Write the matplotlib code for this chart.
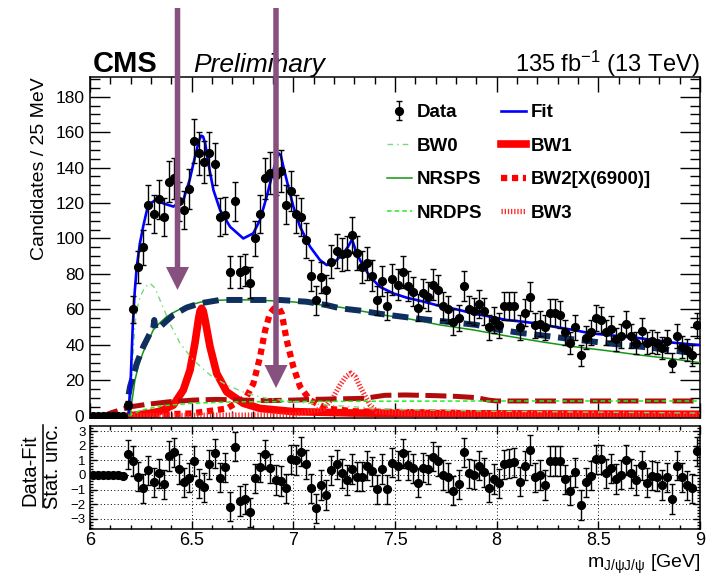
import numpy as np
import matplotlib
matplotlib.use('Agg')
import matplotlib.pyplot as plt
from matplotlib.patches import FancyArrow
from matplotlib.lines import Line2D
from matplotlib.transforms import IdentityTransform
from matplotlib.ticker import MultipleLocator, FuncFormatter

plt.rcParams['font.family'] = ['Liberation Sans', 'DejaVu Sans']
plt.rcParams['mathtext.fontset'] = 'custom'
plt.rcParams['mathtext.rm'] = 'Liberation Sans'
plt.rcParams['mathtext.it'] = 'Liberation Sans:italic'
plt.rcParams['mathtext.bf'] = 'Liberation Sans:bold'

# ---------------- data ----------------
bin_lo, bin_width, n_bins = 6.0, 0.025, 120
counts = [0, 0, 0, 0, 0, 0, 0, 6, 60, 84,
          95, 119, 114, 122, 112, 132, 134, 121, 116, 128,
          155, 148, 143, 148, 142, 112, 113, 81, 121, 81,
          82, 75, 100, 114, 134, 137, 136, 138, 119, 127,
          114, 112, 99, 79, 65, 78, 71, 87, 93, 91,
          92, 102, 92, 84, 86, 79, 65, 76, 62, 77,
          74, 81, 73, 70, 61, 69, 67, 74, 71, 62,
          60, 53, 55, 73, 60, 59, 63, 59, 50, 54,
          51, 62, 62, 62, 50, 58, 67, 51, 52, 50,
          58, 58, 57, 47, 41, 50, 34, 44, 47, 55,
          54, 47, 49, 43, 45, 52, 45, 41, 48, 41,
          42, 41, 38, 42, 30, 45, 39, 37, 34, 51]
resid = [0, 0, 0, 0, 0, 0, -0.05, 1.40, 0.95, -0.13,
         -0.92, 0.33, -0.51, 0.10, -0.63, 1.29, 1.54, 0.40, -0.51, -0.19,
         0.95, -0.58, -0.85, 0.72, 1.47, -0.19, 0.52, -2.18, 1.93, -1.79,
         -1.65, -2.56, -0.24, 0.52, 1.40, 0.45, -0.35, -0.42, -0.92, 1.08,
         1.02, 1.58, 0.74, -0.92, -2.29, -0.69, -1.38, 0.33, 0.72, 0.10,
         -0.35, 0.40, -0.13, -0.13, 0.63, 0.26, -0.99, 0.40, -0.99, 0.83,
         0.63, 1.47, 0.67, 0.45, -0.53, 0.49, 0.38, 1.24, 0.95, -0.01,
         -0.17, -1.08, -0.65, 1.54, 0.10, 0.03, 0.63, 0.17, -0.88, -0.28,
         -0.58, 0.72, 0.79, 0.86, -0.47, 0.63, 1.70, -0.17, -0.01, -0.69,
         0.95, 0.95, 0.95, -0.30, -1.08, 0.17, -2.06, -0.51, -0.06, 1.06,
         1.06, 0.10, 0.45, -0.28, 0.03, 1.02, 0.10, -0.35, 0.67, -0.53,
         -0.06, -0.13, -0.69, -0.17, -1.65, 0.63, -0.17, -0.72, -0.92, 1.61]
resid_err = [0] * 7 + [1] * 113

fit_x = [6.19, 6.20, 6.21, 6.22, 6.23, 6.245, 6.262, 6.28, 6.30, 6.32, 6.34, 6.36,
         6.41, 6.459, 6.49, 6.51, 6.525, 6.537, 6.547, 6.556, 6.566, 6.582, 6.607,
         6.64, 6.689, 6.754, 6.803, 6.836, 6.869, 6.902, 6.917, 6.928, 6.938, 6.95,
         6.967, 7.0, 7.033, 7.082, 7.131, 7.164, 7.197, 7.246, 7.27, 7.289, 7.31,
         7.336, 7.377, 7.426, 7.492, 7.557, 7.639, 7.721, 7.803, 7.885, 7.967,
         8.049, 8.131, 8.213, 8.295, 8.377, 8.459, 8.541, 8.623, 8.705, 8.787,
         8.869, 8.951, 9.0]
fit_y = [2, 20, 50, 70, 84, 97, 107, 116, 120, 121.5, 121, 119.8,
         118, 121.7, 133, 143, 150, 155.5, 158, 157.5, 154, 142.4, 127.3,
         116, 106.6, 100, 102.9, 110.4, 123.6, 138.6, 145, 148, 147, 141,
         133, 118, 106.6, 95.4, 87.8, 85, 86, 91.6, 95.5, 99.5, 92,
         86, 78.4, 72.7, 69, 66.6, 64.4, 61.9, 60, 57.7, 55.9,
         54, 53, 51.8, 49.9, 48.4, 46.5, 45.6, 44.6, 43.7, 42.4,
         41.2, 40.3, 39.9]

bkg_x = [6.19, 6.197, 6.23, 6.262, 6.295, 6.31, 6.316, 6.322, 6.328, 6.344, 6.377,
         6.41, 6.475, 6.541, 6.639, 6.77, 6.934, 7.066, 7.164, 7.23, 7.328, 7.443,
         7.574, 7.672, 7.787, 7.902, 8.0, 8.131, 8.246, 8.36, 8.475, 8.59, 8.705,
         8.82, 8.934, 9.0]
bkg_y = [12, 16.4, 29.5, 39, 46.5, 48.5, 54, 49, 49.3, 50, 53.5,
         56.8, 61, 63.4, 65.3, 65.3, 65.3, 64.3, 62.4, 60.6, 59.3, 57.2,
         55.3, 54, 52.7, 51.2, 48.7, 46.5, 45, 43.3, 41.8, 40.3, 39,
         37.5, 35.8, 35]

nrsps_x = [6.195, 6.205, 6.221, 6.24, 6.262, 6.29, 6.311, 6.34, 6.377, 6.42, 6.459,
           6.5, 6.541, 6.6, 6.7, 6.8, 6.9, 7.0, 7.1, 7.23, 7.443, 7.574, 7.721,
           7.885, 8.049, 8.213, 8.377, 8.541, 8.705, 8.869, 9.0]
nrsps_y = [0, 7, 20, 29, 36, 43, 48.3, 52, 55.9, 58.8, 61,
           62.6, 64, 65, 65.4, 65.3, 64.8, 64.2, 63, 61.2, 56.8, 54.5, 51.2,
           48.4, 45, 41.8, 39, 36.7, 34.2, 32, 29.9]

nrdps_x = [6.19, 6.25, 6.35, 6.5, 6.7, 7.0, 7.5, 8.0, 9.0]
nrdps_y = [0, 3, 5.5, 7, 7.8, 8, 8.2, 8.3, 8.3]

bw0_x = [6.2, 6.21, 6.221, 6.235, 6.246, 6.27, 6.295, 6.32, 6.344, 6.393, 6.443,
         6.508, 6.59, 6.672, 6.77, 6.869, 7.0, 7.164, 7.5, 8.0, 9.0]
bw0_y = [0, 30, 52, 62, 67, 72.5, 74.7, 72, 65.3, 52, 40.8,
         31.4, 23, 17.3, 12.6, 9.8, 7.9, 6, 3.5, 2.5, 1.5]

bw1_x = [6.2, 6.3, 6.344, 6.41, 6.459, 6.492, 6.516, 6.533, 6.541, 6.549, 6.557,
         6.566, 6.59, 6.623, 6.672, 6.754, 6.836, 7.0, 7.3, 8.0, 9.0]
bw1_y = [0, 1.5, 2.5, 6, 14.5, 25.8, 40.8, 54, 59, 60.6, 59,
         54, 39, 23.9, 13.5, 7, 4.1, 2.3, 1.5, 1.0, 0.8]

bw2_x = [6.2, 6.5, 6.672, 6.77, 6.803, 6.836, 6.861, 6.885, 6.905, 6.918, 6.93,
         6.943, 6.967, 7.0, 7.033, 7.082, 7.164, 7.3, 8.0, 9.0]
bw2_y = [0, 1.3, 4, 10.7, 18, 33, 48, 57.7, 60.5, 61, 60.5,
         57.7, 42.7, 27.6, 16.4, 8.8, 4, 2.5, 1.2, 0.8]

bw3_x = [6.2, 7.0, 7.15, 7.197, 7.23, 7.258, 7.283, 7.305, 7.328, 7.377, 7.41, 7.6, 9.0]
bw3_y = [0, 0.5, 4, 10.7, 17.3, 22, 24, 22, 16.4, 6, 2.3, 1, 0.5]

intf_x = [6.04, 6.1, 6.197, 6.279, 6.393, 6.508, 6.623, 6.754, 6.869, 7.0, 7.098,
          7.23, 7.35, 7.45, 7.55, 7.7, 7.8, 7.9, 7.96, 8.0, 9.0]
intf_y = [-1.5, 1.5, 5, 6.4, 7.9, 8.8, 9.2, 8.8, 8.5, 8.8, 9.2,
          9.5, 9.8, 11.5, 11.7, 11.3, 10.9, 10.2, 8.8, 8.3, 8.3]

# ---------------- figure ----------------
W, H = 726, 576
fig = plt.figure(figsize=(W / 100, H / 100), dpi=100)


def fx(px):
    return px / W


def fy(py):
    return 1 - py / H


ax = fig.add_axes([fx(90), fy(418), 610 / W, (418 - 77) / H])
axr = fig.add_axes([fx(90), fy(529), 610 / W, (529 - 426) / H])

mass = bin_lo + bin_width * (np.arange(n_bins) + 0.5)
counts_a = np.array(counts, dtype=float)
errs = np.sqrt(counts_a)

l_bw1, = ax.plot(bw1_x, bw1_y, color='#ff0000', lw=5.5, zorder=2, label='BW1')
l_bw2, = ax.plot(bw2_x, bw2_y, color='#ff0000', lw=4.5, ls=(0, (1.0, 0.75)), zorder=2,
                 label='BW2[X(6900)]')
l_bw3, = ax.plot(bw3_x, bw3_y, color='#ff2a2a', lw=3.8, ls=(0, (0.25, 0.35)), zorder=2,
                 label='BW3')
ax.plot(intf_x, intf_y, color='#b00c0c', lw=3.6, ls=(0, (4.2, 1.3)), zorder=3)
l_nrdps, = ax.plot(nrdps_x, nrdps_y, color='#22ee22', lw=1.1, ls=(0, (3, 2)), zorder=3,
                   label='NRDPS')
l_bw0, = ax.plot(bw0_x, bw0_y, color='#77d977', lw=1.0, ls=(0, (4, 3, 1, 3)), zorder=3,
                 label='BW0')
l_nrsps, = ax.plot(nrsps_x, nrsps_y, color='#149614', lw=1.1, zorder=4, label='NRSPS')
ax.plot(bkg_x, bkg_y, color='#0f2f5f', lw=4.3, ls=(0, (2.7, 1.3)), zorder=5)
l_fit, = ax.plot(fit_x, fit_y, color='#0000ff', lw=1.9, zorder=6, label='Fit')
eb = ax.errorbar(mass, counts_a, yerr=errs, fmt='o', color='black', ms=5.6,
                 elinewidth=1.0, capsize=2.0, capthick=1.0, zorder=7, label='Data')

ax.set_xlim(6, 9)
ax.set_ylim(-1.3, 191.1)
ax.xaxis.set_major_locator(MultipleLocator(0.5))
ax.xaxis.set_minor_locator(MultipleLocator(0.1))
ax.yaxis.set_major_locator(MultipleLocator(20))
ax.yaxis.set_minor_locator(MultipleLocator(5))
ax.tick_params(axis='both', which='both', direction='in', top=True, right=True,
               labelbottom=False, width=1.0)
ax.tick_params(axis='x', which='major', length=10.8)
ax.tick_params(axis='x', which='minor', length=5)
ax.tick_params(axis='y', which='major', length=14.4, labelsize=12.5, pad=4)
ax.tick_params(axis='y', which='minor', length=7.2)
for s in ax.spines.values():
    s.set_linewidth(1.1)
ax.set_ylabel('Candidates / 25 MeV', loc='top', fontsize=14)
ax.yaxis.set_label_coords(-0.069, 1.0)

handles = [eb, l_bw0, l_nrsps, l_nrdps, l_fit, l_bw1, l_bw2, l_bw3]
labels = ['Data', 'BW0', 'NRSPS', 'NRDPS', 'Fit', 'BW1', 'BW2[X(6900)]', 'BW3']
ax.legend(handles, labels, ncol=2, loc='upper left',
          bbox_to_anchor=(fx(387), fy(104)), bbox_transform=fig.transFigure,
          frameon=False, prop={'weight': 'bold', 'size': 13.5},
          handlelength=1.33, handletextpad=0.27, columnspacing=1.0,
          labelspacing=0.88, borderpad=0, borderaxespad=0)

# residual panel
axr.errorbar(mass, resid, yerr=resid_err, fmt='o', color='black', ms=5.6,
             elinewidth=1.0, capsize=2.0, capthick=1.0, zorder=5)
axr.set_xlim(6, 9)
axr.set_ylim(-3.7, 3.35)
axr.set_yticks(range(-3, 4))
axr.yaxis.set_minor_locator(MultipleLocator(0.2))
axr.xaxis.set_major_locator(MultipleLocator(0.5))
axr.xaxis.set_minor_locator(MultipleLocator(0.1))
axr.xaxis.set_major_formatter(FuncFormatter(lambda v, p: f'{v:g}'))
axr.grid(True, which='major', color='black', ls=(0, (1, 2.5)), lw=0.7)
axr.tick_params(axis='both', which='both', direction='in', top=True, right=True, width=1.0)
axr.tick_params(axis='x', which='major', length=6, labelsize=13, pad=2)
axr.tick_params(axis='x', which='minor', length=3)
axr.tick_params(axis='y', which='major', length=5, labelsize=9.5, pad=3)
axr.tick_params(axis='y', which='minor', length=2.5)
for s in axr.spines.values():
    s.set_linewidth(1.1)
axr.set_xlabel(r'm$_{\mathrm{J/\psi J/\psi}}$ [GeV]', loc='right', fontsize=14)
axr.xaxis.set_label_coords(1.0, -0.235)

# residual y label as fraction
fig.text(fx(30), fy(470), 'Data-Fit', rotation=90, ha='center', va='center', fontsize=14.5)
fig.add_artist(Line2D([fx(42.5), fx(42.5)], [fy(425), fy(507)],
                      transform=fig.transFigure, color='black', lw=1.1))
fig.text(fx(52), fy(466), 'Stat. unc.', rotation=90, ha='center', va='center', fontsize=14.5)

# header
fig.text(fx(93), fy(72), 'CMS', fontsize=21, fontweight='bold', ha='left', va='baseline')
fig.text(fx(193), fy(72), 'Preliminary', fontsize=19, style='italic', ha='left',
         va='baseline')
fig.text(fx(700), fy(72), r'135 fb$^{-1}$ (13 TeV)', fontsize=17, ha='right',
         va='baseline')

# arrows
for xc, ytip in [(177.5, 290), (276, 388)]:
    arr = FancyArrow(xc, H - 8, 0, -(ytip - 8), width=5.5, head_width=23,
                     head_length=23, length_includes_head=True, color='#86507f',
                     lw=0, transform=IdentityTransform(), zorder=10)
    fig.add_artist(arr)

fig.savefig('out.png', dpi=100)
